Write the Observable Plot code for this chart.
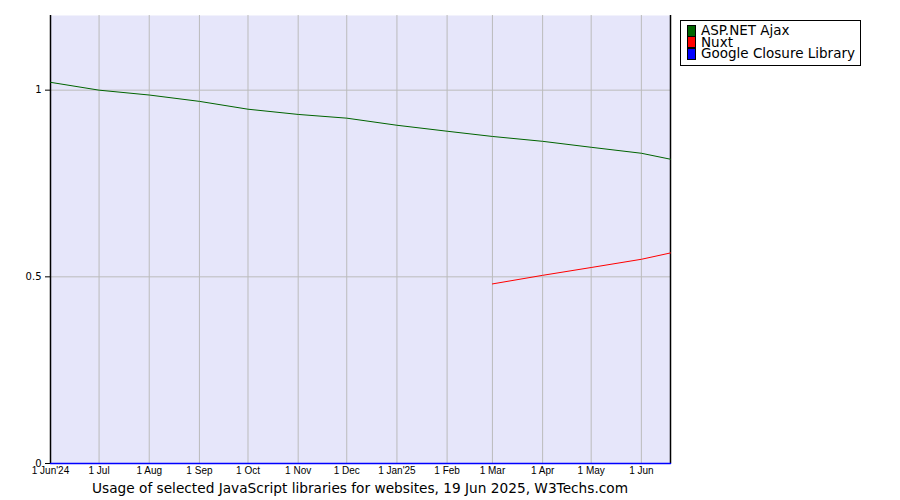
<!DOCTYPE html>
<html>
<head>
<meta charset="utf-8">
<script src="https://cdn.jsdelivr.net/npm/d3@7"></script>
<script src="https://cdn.jsdelivr.net/npm/@observablehq/plot@0.6"></script>
<style>
  body { margin: 0; background: #fff; }
  #wrap { position: relative; width: 900px; height: 500px; }
  #caption { position: absolute; left: 40px; width: 640px; top: 480px; text-align: center;
    font-family: "DejaVu Sans", sans-serif; font-size: 13.7px; color: #000; }
  #legend { position: absolute; left: 680px; top: 20px; width: 179px; height: 40px;
    border: 1px solid #000; background: #fff; font-family: "DejaVu Sans", sans-serif;
    font-size: 13.5px; line-height: 11.5px; padding-top: 4px; box-sizing: content-box; }
  .item { display: flex; align-items: center; height: 11.5px; white-space: nowrap; }
  .sw { width: 7px; height: 10px; border: 1px solid #000; margin-left: 6px; margin-right: 5px; flex: none; }
</style>
</head>
<body>
<div id="wrap">
  <div id="chart"></div>
  <div id="legend"></div>
  <div id="caption">Usage of selected JavaScript libraries for websites, 19 Jun 2025, W3Techs.com</div>
</div>
<script>
const seriesNames = ["ASP.NET Ajax", "Nuxt", "Google Closure Library"];
const seriesColors = ["#006400", "#ff0000", "#0000ff"];

const aspDates = ["2024-06-01","2024-07-01","2024-08-01","2024-09-01","2024-10-01","2024-11-01","2024-12-01","2025-01-01","2025-02-01","2025-03-01","2025-04-01","2025-05-01","2025-06-01","2025-06-19"];
const aspValues = [1.021, 1.0, 0.987, 0.970, 0.949, 0.935, 0.925, 0.906, 0.890, 0.876, 0.863, 0.847, 0.831, 0.815];

const nuxtDates = ["2025-03-01","2025-04-01","2025-05-01","2025-06-01","2025-06-19"];
const nuxtValues = [0.481, 0.504, 0.525, 0.547, 0.564];

const closureDates = ["2024-06-01","2025-06-19"];
const closureValues = [0, 0];

const tickDates = ["2024-06-01","2024-07-01","2024-08-01","2024-09-01","2024-10-01","2024-11-01","2024-12-01","2025-01-01","2025-02-01","2025-03-01","2025-04-01","2025-05-01","2025-06-01"];
const tickLabels = ["1 Jun'24","1 Jul","1 Aug","1 Sep","1 Oct","1 Nov","1 Dec","1 Jan'25","1 Feb","1 Mar","1 Apr","1 May","1 Jun"];
const yTicks = [0, 0.5, 1];
const xDomain = ["2024-06-01", "2025-06-19"];
const yDomain = [0, 1.2];

const parse = s => new Date(s + "T00:00:00Z");
const rows = [];
aspDates.forEach((d, i) => rows.push({date: parse(d), value: aspValues[i], series: seriesNames[0]}));
nuxtDates.forEach((d, i) => rows.push({date: parse(d), value: nuxtValues[i], series: seriesNames[1]}));
const closureRows = closureDates.map((d, i) => ({date: parse(d), value: closureValues[i], series: seriesNames[2]}));

const ticks = tickDates.map(parse);
const labelOf = new Map(ticks.map((t, i) => [+t, tickLabels[i]]));
const xd = xDomain.map(parse);

const chart = Plot.plot({
  width: 900,
  height: 480,
  marginLeft: 50,
  marginRight: 230,
  marginTop: 15,
  marginBottom: 17,
  style: { fontFamily: "DejaVu Sans, sans-serif", fontSize: "10px", background: "transparent", overflow: "visible" },
  x: { type: "utc", domain: xd, label: null },
  y: { domain: yDomain, label: null },
  color: { domain: seriesNames, range: seriesColors },
  marks: [
    Plot.frame({ fill: "#e6e6fa", stroke: null }),
    Plot.gridX(ticks.slice(1), { stroke: "#bbbbbb", strokeOpacity: 1 }),
    Plot.gridY([0.5, 1], { stroke: "#bbbbbb", strokeOpacity: 1 }),
    Plot.ruleX([xd[0], xd[1]], { stroke: "#000", strokeWidth: 1.5 }),
    Plot.line(rows, { x: "date", y: "value", z: "series", stroke: "series", strokeWidth: 1 }),
    Plot.line(closureRows, { x: "date", y: "value", stroke: "series", strokeWidth: 1.6 }),
    Plot.axisY(yTicks, { tickSize: 5, tickPadding: 4, stroke: "#000", tickFormat: d => String(d), label: null, fontSize: 10 }),
    Plot.axisX(ticks, { tickSize: 0, tickPadding: 3, tickFormat: d => labelOf.get(+d), label: null, fontFamily: "Liberation Sans, Arial, sans-serif", fontSize: 10 })
  ]
});
document.getElementById("chart").appendChild(chart);

const legend = document.getElementById("legend");
seriesNames.forEach((name, i) => {
  const item = document.createElement("div");
  item.className = "item";
  const sw = document.createElement("span");
  sw.className = "sw";
  sw.style.background = seriesColors[i];
  const tx = document.createElement("span");
  tx.textContent = name;
  item.appendChild(sw);
  item.appendChild(tx);
  legend.appendChild(item);
});
</script>
</body>
</html>
